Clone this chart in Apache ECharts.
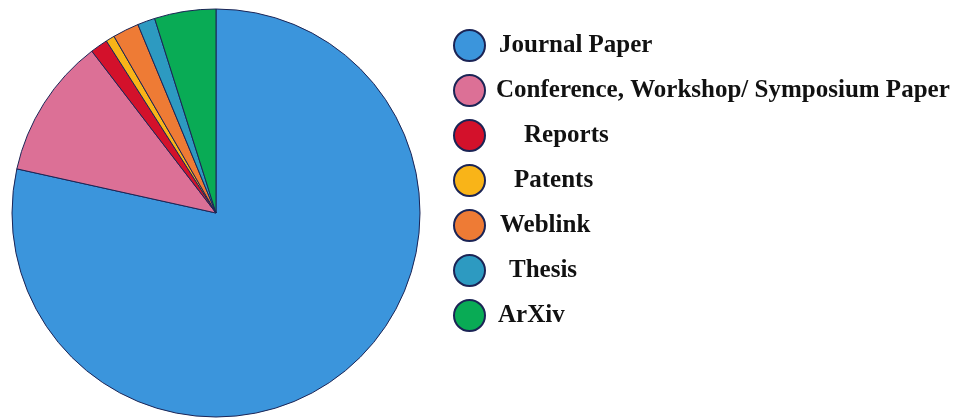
<!DOCTYPE html>
<html>
<head>
<meta charset="utf-8">
<script src="https://cdn.jsdelivr.net/npm/echarts@6/dist/echarts.min.js"></script>
<style>html,body{margin:0;padding:0;background:#fff;}#c{width:980px;height:420px;}</style>
</head>
<body>
<div id="c"></div>
<script>
const categories = ['Journal Paper', 'Conference, Workshop/ Symposium Paper', 'Reports', 'Patents', 'Weblink', 'Thesis', 'ArXiv'];
const counts = [113, 16, 2, 1, 3, 2, 7];
const colors = ['#3b95dc', '#dc7096', '#d3112b', '#f9b418', '#ee7b35', '#2d9ac1', '#09ab55'];
const indents = [9, 6, 34, 24, 10, 19, 8];

const chart = echarts.init(document.getElementById('c'), null, {renderer: 'canvas'});
const rich = {};
indents.forEach((p, i) => { rich['t' + i] = {padding: [0, 0, 0, p], fontFamily: 'Liberation Serif', fontWeight: 'bold', fontSize: 25, lineHeight: 30, color: '#111'}; });

chart.setOption({
  animation: false,
  color: colors,
  legend: {
    orient: 'vertical',
    left: 448,
    top: 24,
    padding: 5,
    itemWidth: 31,
    itemHeight: 31,
    itemGap: 12,
    icon: 'circle',
    data: categories,
    formatter: name => '{t' + categories.indexOf(name) + '|' + name + '}',
    textStyle: {fontFamily: 'Liberation Serif', fontWeight: 'bold', fontSize: 25, lineHeight: 30, color: '#111', rich: rich}
  },
  series: [{
    type: 'pie',
    center: [216, 213],
    radius: 204,
    startAngle: 90,
    clockwise: true,
    label: {show: false},
    labelLine: {show: false},
    emphasis: {disabled: true},
    itemStyle: {borderColor: '#1b2455', borderWidth: 1},
    data: categories.map((c, i) => ({name: c, value: counts[i]}))
  }]
});
</script>
</body>
</html>
